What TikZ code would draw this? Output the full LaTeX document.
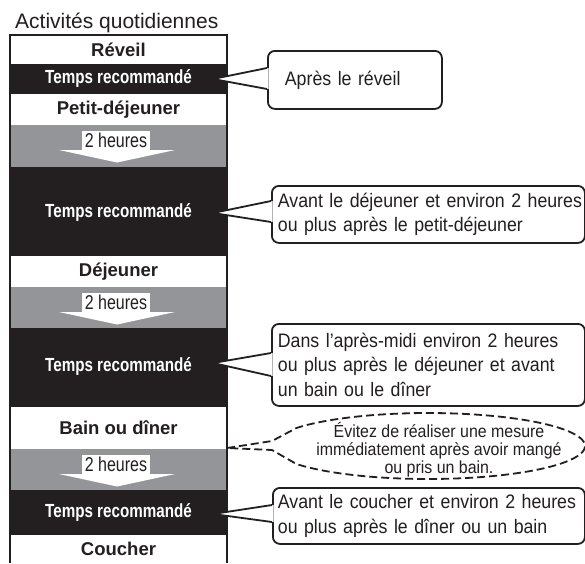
\documentclass[tikz,border=0pt]{standalone}
\usepackage{fontspec}
\setmainfont{Liberation Sans}
\newfontfamily\condsans[FakeStretch=0.80]{Liberation Sans}
\newfontfamily\narrowsans[FakeStretch=0.91]{Liberation Sans}
\definecolor{ink}{HTML}{231F20}
\definecolor{band}{HTML}{939598}
\begin{document}
\begin{tikzpicture}[x=1pt,y=-1pt,
  lbl/.style={font=\fontsize{18.5}{20}\selectfont\bfseries, text=ink, inner sep=0pt},
  trlbl/.style={font=\condsans\fontsize{19}{20}\selectfont\bfseries, text=white, inner sep=0pt},
  hrs/.style={font=\condsans\fontsize{20}{20}\selectfont, text=ink, fill=white, inner sep=0pt, minimum width=68pt, minimum height=19pt, anchor=south},
  callout/.style={draw=ink, line width=1.8pt, rounded corners=7pt, fill=white, anchor=north west, align=left, text=ink, font=\narrowsans\fontsize{19.5}{24.5}\selectfont, inner ysep=0pt},
  ptr/.style={draw=ink, line width=1.8pt, line join=miter},
  dsh/.style={draw=ink, line width=1.8pt, dash pattern=on 8pt off 4pt}
]
\useasboundingbox (0,0) rectangle (585,563);
\fill[white] (0,0) rectangle (585,563);

% title
\node[anchor=base west, inner sep=0pt, font=\fontsize{21}{22}\selectfont, text=ink] (title) at (15,28) {Activités quotidiennes};

% bands
\fill[ink] (10,64) rectangle (227,93.5);
\fill[band] (10,125) rectangle (227,166.5);
\fill[ink] (10,166.5) rectangle (227,256);
\fill[band] (10,287) rectangle (227,328);
\fill[ink] (10,328) rectangle (227,407);
\fill[band] (10,449) rectangle (227,490);
\fill[ink] (10,490) rectangle (227,535);

% column border
\draw[ink, line width=1.8pt] (10,563) -- (10,35) -- (227,35) -- (227,563);

% labels
\node[lbl] (reveil) at (118.5,49.5) {Réveil};
\node[trlbl] (tr1) at (118.5,78.5) {Temps recommandé};
\node[lbl] (petit) at (118.5,109.5) {Petit-déjeuner};
\node[trlbl] (tr2) at (118.5,212) {Temps recommandé};
\node[lbl] (dej) at (118.5,271.5) {Déjeuner};
\node[trlbl] (tr3) at (118.5,366) {Temps recommandé};
\node[lbl] (bain) at (118.5,428) {Bain ou dîner};
\node[trlbl] (tr4) at (118.5,512.5) {Temps recommandé};
\node[lbl] (coucher) at (118.5,549) {Coucher};

% arrows "2 heures"
\foreach \dy/\nm in {0/h1,162/h2,324/h3}{
  \fill[white] (59,150+\dy) -- (175,150+\dy) -- (117,162.5+\dy) -- cycle;
  \node[hrs] (\nm) at (116,150.5+\dy) {2 heures};
}

% callouts
\node[callout, minimum width=174pt, minimum height=58pt, text width=140pt, inner xsep=17pt] (c1) at (267,50) {\mbox{Après le réveil}};
\node[callout, minimum width=313pt, minimum height=57pt, text width=301pt, inner xsep=6pt] (c2) at (271,185) {\mbox{Avant le déjeuner et environ 2 heures}\\\mbox{ou plus après le petit-déjeuner}};
\node[callout, minimum width=313pt, minimum height=82pt, text width=301pt, inner xsep=6pt] (c3) at (271,323) {\mbox{Dans l’après-midi environ 2 heures}\\\mbox{ou plus après le déjeuner et avant}\\\mbox{un bain ou le dîner}};
\node[callout, minimum width=312pt, minimum height=56pt, text width=302pt, inner xsep=5pt] (c5) at (272,487) {\mbox{Avant le coucher et environ 2 heures}\\\mbox{ou plus après le dîner ou un bain}};

% pointer coordinates
\coordinate (t1) at (213,79);
\coordinate (t2) at (213,213);
\coordinate (t3) at (213,363);
\coordinate (t5) at (213,514);
\coordinate (c1a) at (267,68);  \coordinate (c1b) at (267,89);
\coordinate (c2a) at (271,201); \coordinate (c2b) at (271,222);
\coordinate (c3a) at (271,353); \coordinate (c3b) at (271,376);
\coordinate (c5a) at (272,505); \coordinate (c5b) at (272,522);

\foreach \t/\a/\b in {t1/c1a/c1b, t2/c2a/c2b, t3/c3a/c3b, t5/c5a/c5b}{
  \fill[white] (\t) -- ([xshift=1.5pt]\a) -- ([xshift=1.5pt]\b) -- cycle;
  \draw[ptr] (\a) -- (\t) -- (\b);
}

% dashed note
\coordinate (t4) at (227,448);
\coordinate (e1) at (272,441);
\coordinate (e2) at (272,450);
\draw[dsh] (t4) -- (e1) -- plot[domain=213:507, samples=90, smooth] ({428+157*cos(\x)}, {446+33*sin(\x)}) -- (e2) -- cycle;
\node[align=center, inner sep=0pt, text=ink, font=\narrowsans\fontsize{17.5}{18}\selectfont] (note) at (439,450) {Évitez de réaliser une mesure\\immédiatement après avoir mangé\\ou pris un bain.};
\end{tikzpicture}
\end{document}
